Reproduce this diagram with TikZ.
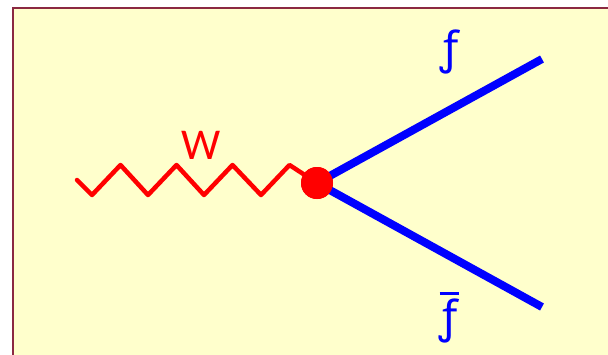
\documentclass[tikz,border=0pt]{standalone}
\usepackage{fontspec}
\setmainfont{Carlito}
\newfontfamily\florin{Noto Sans}
\usepackage{tikz}
\usetikzlibrary{arrows.meta}

\definecolor{boxfill}{HTML}{FFFFCC}
\definecolor{boxline}{HTML}{8B2942}

\newcommand{\fbarra}{{\florin\setbox0=\hbox{ƒ}\rlap{\hbox to \wd0{\hss\raisebox{38pt}{\rule{19pt}{2.5pt}}\hss}}\box0}}

\begin{document}
\begin{tikzpicture}[x=1pt, y=-1pt, every node/.style={font=\fontsize{44}{50}\selectfont}]
                \useasboundingbox (0,0) rectangle (608,354);
                % Marco de fondo
                \draw[line width=2.5pt, boxline, fill=boxfill] (13,8) rectangle (640,380);

                % Vertice y extremos
                \node[circle, fill=red, inner sep=0pt, minimum size=32pt] (vtx) at (317,183) {};
                \coordinate (wstart) at (77,180);
                \coordinate (fend) at (542,59);
                \coordinate (fbarend) at (542,307);

                % Fermiones
                \draw[line width=8pt, blue] (vtx.center) -- (fend);
                \draw[line width=8pt, blue] (vtx.center) -- (fbarend);

                % Boson W (zigzag)
                \draw[line width=4.5pt, red, line join=round, line cap=round] (wstart)
                    \foreach \x in {92,148,204,261}{ -- (\x,195) -- (\x+28.5,165)} -- (vtx.center);
                \node[circle, fill=red, inner sep=0pt, minimum size=32pt] at (vtx) {};

                % Etiquetas
                \node[red] (wlabel) at (201,145) {W};
                \node[blue] (flabel) at (450,52) {\florin ƒ};
                \node[blue] (fbarlabel) at (449,318) {\fbarra};
            \end{tikzpicture}
\end{document}
